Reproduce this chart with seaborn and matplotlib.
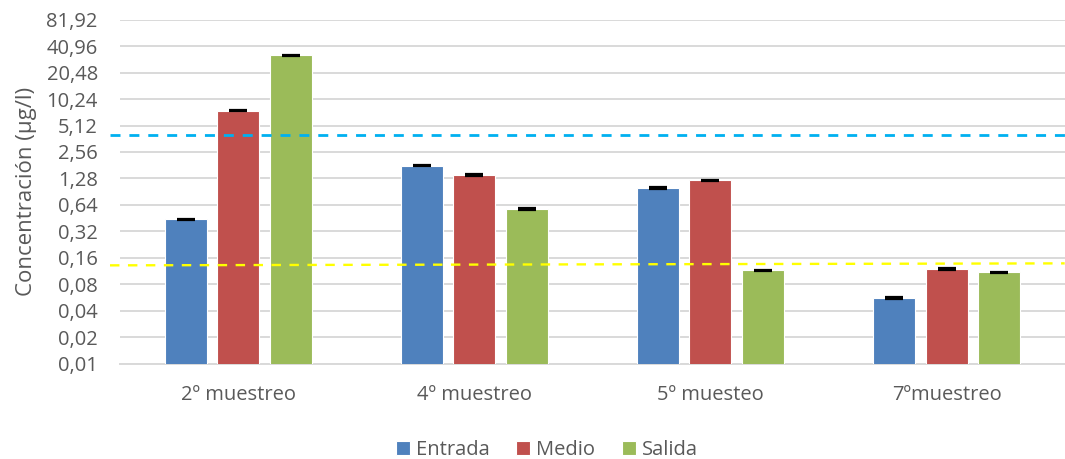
import numpy as np
import pandas as pd
import matplotlib
matplotlib.use("Agg")
import matplotlib.pyplot as plt
from matplotlib.ticker import FixedLocator, FixedFormatter, NullLocator
from matplotlib.transforms import blended_transform_factory
import seaborn as sns

# Sampling campaigns and measured concentrations (µg/l)
muestreos = ["2º muestreo", "4º muestreo", "5º muesteo", "7ºmuestreo"]
puntos = ["Entrada", "Medio", "Salida"]
entrada = [0.44, 1.79, 1.00, 0.056]
medio = [7.55, 1.40, 1.22, 0.120]
salida = [32.1, 0.576, 0.116, 0.110]
error_rel = [0.02, 0.02, 0.02, 0.02]

# Reference limits drawn as dashed guides (start, end)
limite_superior = [4.0, 4.0]
limite_inferior = [0.132, 0.139]

# Axis ticks (log2 scale)
yticks = [0.01 * 2 ** k for k in range(14)]
ytick_labels = [f"{v:.2f}".replace(".", ",") for v in yticks]

colores = {"Entrada": "#4F81BD", "Medio": "#C0504D", "Salida": "#9BBB59"}
gris_texto = "#595959"
gris_rejilla = "#D9D9D9"

df = pd.DataFrame({
    "muestreo": muestreos * 3,
    "punto": [p for p in puntos for _ in muestreos],
    "valor": entrada + medio + salida,
    "err": [e * v for v, e in zip(entrada + medio + salida, error_rel * 3)],
})

sns.set_theme(style="white")
plt.rcParams["font.family"] = ["Open Sans", "DejaVu Sans"]

fig = plt.figure(figsize=(10.65, 4.59), dpi=100)
ax = fig.add_axes([0.1127, 0.207, 0.887, 0.7505])

ax.set_yscale("log", base=2)
ax.set_ylim(0.01, 81.92)

sns.barplot(data=df, x="muestreo", y="valor", hue="punto", order=muestreos,
            hue_order=puntos, palette=colores, width=0.667, gap=0.2,
            errorbar=None, saturation=1, ax=ax, zorder=3, linewidth=0.8,
            edgecolor="white")

# Error bars at the top of each bar
for cont, punto in zip(ax.containers, puntos):
    sub = df[df["punto"] == punto].set_index("muestreo").loc[muestreos]
    xs = [p.get_x() + p.get_width() / 2 for p in cont.patches]
    ax.errorbar(xs, sub["valor"].values, yerr=sub["err"].values, fmt="none",
                ecolor="black", elinewidth=1.5, capsize=6.5, capthick=1.6,
                zorder=4)

ax.set_xlim(-0.5, 3.5)

ax.yaxis.set_major_locator(FixedLocator(yticks))
ax.yaxis.set_major_formatter(FixedFormatter(ytick_labels))
ax.yaxis.set_minor_locator(NullLocator())
ax.grid(axis="y", color=gris_rejilla, linewidth=1.4, zorder=0)
ax.set_axisbelow(True)
for s in ["top", "right", "left"]:
    ax.spines[s].set_visible(False)
ax.spines["bottom"].set_color(gris_rejilla)
ax.spines["bottom"].set_linewidth(1.4)
ax.tick_params(axis="both", length=0, colors=gris_texto, labelsize=14.5)
ax.tick_params(axis="y", pad=16)
ax.tick_params(axis="x", pad=15)

ax.set_xlabel("")
ax.set_ylabel("Concentración (µg/l)", color=gris_texto, fontsize=16, labelpad=7)

# Dashed reference levels
trans = blended_transform_factory(ax.transAxes, ax.transData)
ax.plot([-0.0106, 1.0], limite_superior, transform=trans, color="#00B0F0",
        linewidth=2.0, dashes=(3.6, 3.2), clip_on=False, zorder=5)
ax.plot([-0.0106, 1.0], limite_inferior, transform=trans, color="#FFFF00",
        linewidth=1.7, dashes=(4.0, 3.6), clip_on=False, zorder=5)

leg = ax.legend(loc="center", bbox_to_anchor=(0.452, -0.25), ncol=3,
                frameon=False, fontsize=14.5, handlelength=0.7,
                handleheight=0.7, handletextpad=0.3, columnspacing=1.3,
                borderpad=0)
for t in leg.get_texts():
    t.set_color(gris_texto)

fig.savefig("out.png", dpi=100)
